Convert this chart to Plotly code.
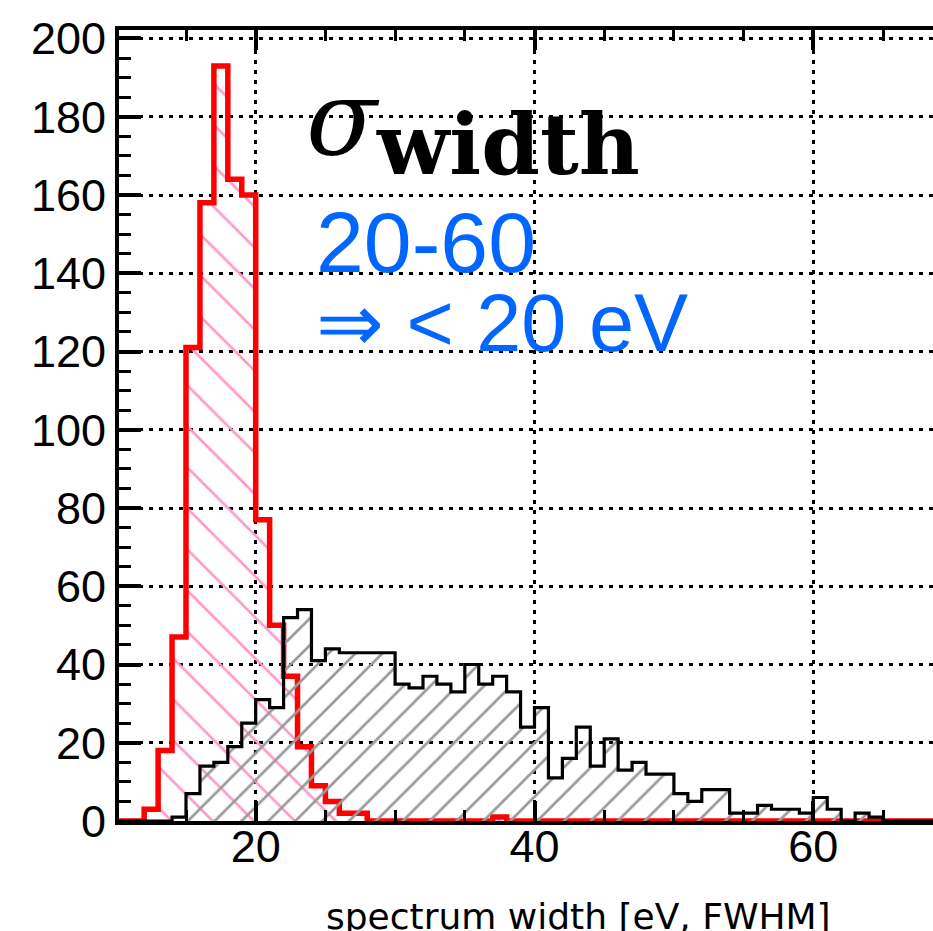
import plotly.graph_objects as go

# ---- data ----
bin_lo = [10, 11, 12, 13, 14, 15, 16, 17, 18, 19,
          20, 21, 22, 23, 24, 25, 26, 27, 28, 29,
          30, 31, 32, 33, 34, 35, 36, 37, 38, 39,
          40, 41, 42, 43, 44, 45, 46, 47, 48, 49,
          50, 51, 52, 53, 54, 55, 56, 57, 58, 59,
          60, 61, 62, 63, 64, 65, 66, 67, 68, 69]
bin_width = 1

red_counts = [0, 0, 3, 18, 47, 121, 158, 193, 164, 160,
              77, 50, 37, 19, 9, 5, 2, 2, 0, 0,
              0, 0, 0, 0, 0, 0, 0, 1, 0, 0,
              0, 0, 0, 0, 0, 0, 0, 0, 0, 0,
              0, 0, 0, 0, 0, 0, 0, 0, 0, 0,
              0, 0, 0, 0, 0, 0, 0, 0, 0, 0]

gray_counts = [0, 0, 0, 0, 1, 7, 14, 15, 19, 25,
               31, 29, 52, 54, 41, 44, 43, 43, 43, 43,
               35, 34, 37, 35, 33, 40, 35, 37, 33, 24,
               29, 11, 16, 24, 14, 21, 13, 15, 12, 12,
               7, 5, 8, 8, 2, 2, 4, 3, 3, 2,
               6, 3, 0, 2, 1, 0, 0, 0, 0, 0]

x_ticks = [20, 40, 60]
y_ticks = [0, 20, 40, 60, 80, 100, 120, 140, 160, 180, 200]

x_title = "spectrum width [eV, FWHM]"
label_sigma = "σ"
label_width = "width"
label_range = "20-60"
label_result = "⇒ < 20 eV"

# ---- build step outlines ----
edges = bin_lo + [bin_lo[-1] + bin_width]
red_y = red_counts + [red_counts[-1]]
gray_y = gray_counts + [gray_counts[-1]]

W, H = 933, 931
ML, MR, MT, MB = 119, 0, 30, 110
PW, PH = W - ML - MR, H - MT - MB
PX_PER_UNIT = 13.94
X0 = 20 - (255.7 - ML) / PX_PER_UNIT
X1 = X0 + PW / PX_PER_UNIT
Y1 = (H - MB + 0.5 - MT) / 3.915


def px(xp):
    return (xp - ML) / PW


def py(yp):
    return (H - MB - yp) / PH


fig = go.Figure()

fig.add_trace(go.Scatter(
    x=edges, y=red_y, mode="lines", line_shape="hv",
    line=dict(color="#FF0000", width=5.5),
    fill="tozeroy", fillcolor="rgba(0,0,0,0)",
    fillpattern=dict(shape="\\", fgcolor="#FF99CC", fgopacity=1, bgcolor="rgba(0,0,0,0)",
                     size=29, solidity=0.09, fillmode="overlay"),
    showlegend=False, hoverinfo="skip"))

fig.add_trace(go.Scatter(
    x=edges, y=gray_y, mode="lines", line_shape="hv",
    line=dict(color="#000000", width=3.2),
    fill="tozeroy", fillcolor="rgba(0,0,0,0)",
    fillpattern=dict(shape="/", fgcolor="#999999", fgopacity=1, bgcolor="rgba(0,0,0,0)",
                     size=19, solidity=0.14, fillmode="overlay"),
    showlegend=False, hoverinfo="skip"))

tickfont = dict(family="Liberation Sans, Arial, sans-serif", size=45, color="black")

fig.update_layout(
    width=W, height=H, autosize=False,
    margin=dict(l=ML, r=MR, t=MT, b=MB, pad=0),
    paper_bgcolor="white", plot_bgcolor="white",
    showlegend=False,
    xaxis=dict(
        range=[X0, X1], tickmode="array", tickvals=x_ticks,
        showline=True, linecolor="black", linewidth=4, mirror="allticks",
        ticks="inside", ticklen=20, tickwidth=3.5, tickcolor="black",
        showgrid=True, gridcolor="black", gridwidth=3, griddash="4px,6px",
        zeroline=False, tickfont=tickfont, ticklabelstandoff=-17,
        automargin=False,
        minor=dict(dtick=5, tick0=0, ticks="inside", ticklen=11, tickwidth=3,
                   tickcolor="black", showgrid=False),
    ),
    yaxis=dict(
        range=[0, Y1], tickmode="array", tickvals=y_ticks,
        showline=True, linecolor="black", linewidth=4, mirror=False,
        ticks="inside", ticklen=22, tickwidth=3.5, tickcolor="black",
        showgrid=True, gridcolor="black", gridwidth=3, griddash="4px,6px",
        zeroline=False, tickfont=tickfont, ticklabelstandoff=0,
        automargin=False,
        minor=dict(dtick=5, tick0=0, ticks="inside", ticklen=12, tickwidth=3,
                   tickcolor="black", showgrid=False),
    ),
)

annos = [
    dict(text=label_sigma, x=px(304), y=py(119), xanchor="left", yanchor="middle",
         font=dict(family="DejaVu Serif", size=104, color="black", style="italic")),
    dict(text="<b>" + label_width + "</b>", x=px(374), y=py(144), xanchor="left", yanchor="middle",
         font=dict(family="DejaVu Serif", size=84, color="black")),
    dict(text=label_range, x=px(314), y=py(242), xanchor="left", yanchor="middle",
         font=dict(family="Liberation Sans, Arial, sans-serif", size=86, color="#0066FF")),
    dict(text=label_result, x=px(314), y=py(323), xanchor="left", yanchor="middle",
         font=dict(family="Liberation Sans, Arial, sans-serif", size=81, color="#0066FF")),
    dict(text=x_title, x=px(578), y=py(916), xanchor="center", yanchor="middle",
         font=dict(family="DejaVu Sans", size=36, color="black")),
]
for a in annos:
    fig.add_annotation(xref="paper", yref="paper", showarrow=False, **a)

fig.write_html("out.html",
               config={"displayModeBar": False},
               post_script="document.body.style.margin='0px';"
                           "document.body.style.overflow='hidden';")
